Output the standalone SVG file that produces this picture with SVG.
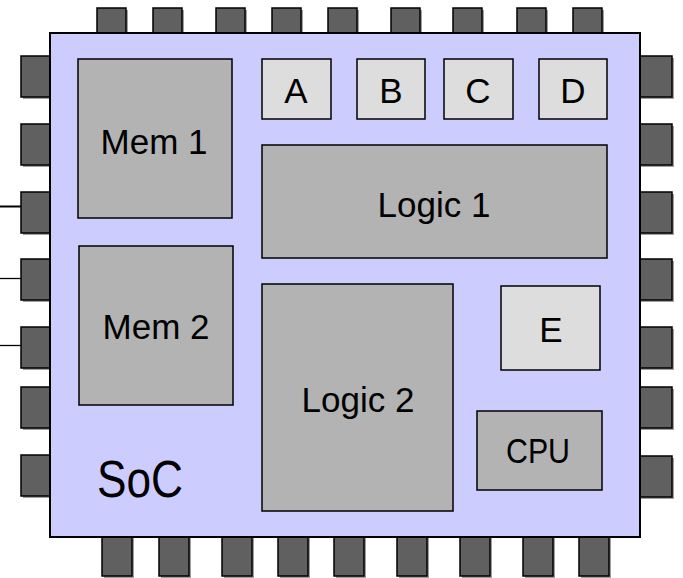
<svg xmlns="http://www.w3.org/2000/svg" width="683" height="578" viewBox="0 0 683 578">
  <style>
    .pin { fill: #606060; stroke: #000; stroke-width: 1.5; }
    .shadow { fill: #a0a0a0; }
    .body { fill: #ccccff; stroke: #000; stroke-width: 2; }
    .block { fill: #b3b3b3; stroke: #000; stroke-width: 1.5; }
    .small { fill: #dddddd; stroke: #000; stroke-width: 1.5; }
    .label { font-family: "Liberation Sans", Arial, sans-serif; font-size: 35px; fill: #000; text-anchor: middle; }
    .title { font-size: 52px; }
    .wire { stroke: #000; fill: none; }
  </style>
  <defs>
    <rect id="pinV" width="29" height="30"/>
    <rect id="pinB" width="30" height="44"/>
    <rect id="pinH" width="34" height="41"/>
  </defs>

  <!-- signal wires into left pins -->
  <g id="connectors">
    <line class="wire" x1="0" y1="206.5" x2="22" y2="206.5" stroke-width="2"/>
    <line class="wire" x1="0" y1="278.5" x2="22" y2="278.5" stroke-width="1.3"/>
    <line class="wire" x1="0" y1="345.5" x2="22" y2="345.5" stroke-width="1.3"/>
  </g>

  <!-- package pins (drawn under the die) -->
  <g id="pins-top">
    <g class="shadow">
      <use href="#pinV" x="99" y="10"/><use href="#pinV" x="155" y="10"/><use href="#pinV" x="218" y="10"/>
      <use href="#pinV" x="274" y="10"/><use href="#pinV" x="330" y="10"/><use href="#pinV" x="393" y="10"/>
      <use href="#pinV" x="455" y="10"/><use href="#pinV" x="519" y="10"/><use href="#pinV" x="575" y="10"/>
    </g>
    <g class="pin">
      <use href="#pinV" x="97" y="8"/><use href="#pinV" x="153" y="8"/><use href="#pinV" x="216" y="8"/>
      <use href="#pinV" x="272" y="8"/><use href="#pinV" x="328" y="8"/><use href="#pinV" x="391" y="8"/>
      <use href="#pinV" x="453" y="8"/><use href="#pinV" x="517" y="8"/><use href="#pinV" x="573" y="8"/>
    </g>
  </g>
  <g id="pins-bottom">
    <g class="shadow">
      <use href="#pinB" x="104" y="534"/><use href="#pinB" x="161" y="534"/><use href="#pinB" x="224" y="534"/>
      <use href="#pinB" x="280" y="534"/><use href="#pinB" x="336" y="534"/><use href="#pinB" x="399" y="534"/>
      <use href="#pinB" x="462" y="534"/><use href="#pinB" x="525" y="534"/><use href="#pinB" x="581" y="534"/>
    </g>
    <g class="pin">
      <use href="#pinB" x="102" y="532"/><use href="#pinB" x="159" y="532"/><use href="#pinB" x="222" y="532"/>
      <use href="#pinB" x="278" y="532"/><use href="#pinB" x="334" y="532"/><use href="#pinB" x="397" y="532"/>
      <use href="#pinB" x="460" y="532"/><use href="#pinB" x="523" y="532"/><use href="#pinB" x="579" y="532"/>
    </g>
  </g>
  <g id="pins-left">
    <g class="shadow">
      <use href="#pinH" x="23" y="58"/><use href="#pinH" x="23" y="126"/><use href="#pinH" x="23" y="194"/>
      <use href="#pinH" x="23" y="261"/><use href="#pinH" x="23" y="329"/><use href="#pinH" x="23" y="389"/>
      <use href="#pinH" x="23" y="457"/>
    </g>
    <g class="pin">
      <use href="#pinH" x="21" y="56"/><use href="#pinH" x="21" y="124"/><use href="#pinH" x="21" y="192"/>
      <use href="#pinH" x="21" y="259"/><use href="#pinH" x="21" y="327"/><use href="#pinH" x="21" y="387"/>
      <use href="#pinH" x="21" y="455"/>
    </g>
  </g>
  <g id="pins-right">
    <g class="shadow">
      <use href="#pinH" x="640" y="58"/><use href="#pinH" x="640" y="126"/><use href="#pinH" x="640" y="194"/>
      <use href="#pinH" x="640" y="261"/><use href="#pinH" x="640" y="329"/><use href="#pinH" x="640" y="389"/>
      <use href="#pinH" x="640" y="458"/>
    </g>
    <g class="pin">
      <use href="#pinH" x="638" y="56"/><use href="#pinH" x="638" y="124"/><use href="#pinH" x="638" y="192"/>
      <use href="#pinH" x="638" y="259"/><use href="#pinH" x="638" y="327"/><use href="#pinH" x="638" y="387"/>
      <use href="#pinH" x="638" y="456"/>
    </g>
  </g>

  <!-- die -->
  <g id="soc">
    <rect class="body" x="50" y="33" width="590" height="504"/>
    <text class="label title" x="140" y="497" textLength="86" lengthAdjust="spacingAndGlyphs">SoC</text>
  </g>

  <g id="mem1">
    <rect class="block" x="78" y="59" width="154" height="159"/>
    <text class="label" x="154" y="154">Mem 1</text>
  </g>
  <g id="mem2">
    <rect class="block" x="79" y="246" width="154" height="159"/>
    <text class="label" x="156" y="339">Mem 2</text>
  </g>

  <g id="a">
    <rect class="small" x="262" y="59" width="69" height="60"/>
    <text class="label" x="296" y="103">A</text>
  </g>
  <g id="b">
    <rect class="small" x="357" y="59" width="68" height="60"/>
    <text class="label" x="391" y="103">B</text>
  </g>
  <g id="c">
    <rect class="small" x="444" y="59" width="69" height="60"/>
    <text class="label" x="478" y="103">C</text>
  </g>
  <g id="d">
    <rect class="small" x="539" y="59" width="68" height="60"/>
    <text class="label" x="573" y="103">D</text>
  </g>

  <g id="logic1">
    <rect class="block" x="262" y="145" width="345" height="113"/>
    <text class="label" x="434" y="217">Logic 1</text>
  </g>
  <g id="logic2">
    <rect class="block" x="262" y="284" width="191" height="227"/>
    <text class="label" x="358" y="412">Logic 2</text>
  </g>

  <g id="e">
    <rect class="small" x="501" y="286" width="99" height="84"/>
    <text class="label" x="551" y="342">E</text>
  </g>
  <g id="cpu">
    <rect class="block" x="477" y="411" width="125" height="79"/>
    <text class="label" x="538" y="463" textLength="64" lengthAdjust="spacingAndGlyphs">CPU</text>
  </g>
</svg>
